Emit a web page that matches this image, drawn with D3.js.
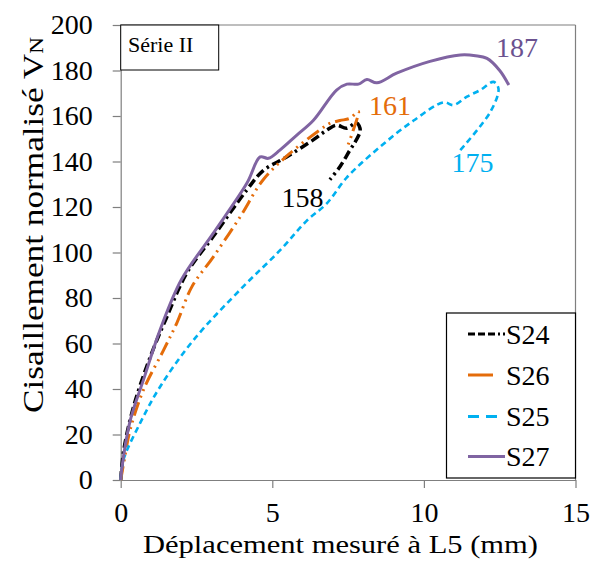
<!DOCTYPE html>
<html><head><meta charset="utf-8">
<script src="https://cdn.jsdelivr.net/npm/d3@7"></script>
<style>body{margin:0;background:#fff}svg{display:block}</style>
</head><body><svg id="c" width="593" height="561"></svg>
<script>
const s24x=[0,0.1,0.42,1.0,1.5,2.18,3.05,4.16,4.7,5.47,6.35,6.8,7.12,7.45,7.78,7.9,7.75,7.56,7.23,6.9];
const s24y=[0,13,32,55,71,91,107,127.5,136,142,149.5,153.8,156,154.6,157,153.8,149,145,137.7,132];
const s26x=[0,0.12,0.31,0.75,1.41,1.85,2.35,3.05,3.94,4.7,5.58,6.58,6.9,7.23,7.56,7.84,7.67,7.5];
const s26y=[0,9,22,39.6,57,69,85,98,115.7,132,143.6,154,156.8,158,159,162,153.8,147.3];
const s25x=[0,0.09,0.64,1.3,2.4,4.04,5.26,6.14,6.8,7.46,8.56,9.66,10.65,10.98,11.42,11.86,12.3,12.46,12.2,11.2];
const s25y=[0,8.8,25,41,61.5,85,101,114,121.6,133,146.5,158,166,164.8,168.5,171.4,175,172,162,145];
const s27x=[0,0.03,0.31,0.75,1.3,2.0,3.05,4.16,4.6,4.87,5.25,5.8,6.35,7.12,7.46,7.84,8.12,8.45,9.1,10.2,11.2,11.7,12.08,12.5,12.8];
const s27y=[0,4.4,26,44,66,88,108.4,130.4,142,141.4,145,151.5,158,171.4,174,174,176,174.6,178.8,184,186.8,186.5,185.3,180,173.6];
const seriesNames=["S24","S26","S25","S27"];
const peakLabels=["158","161","175","187"];
const peakLabelPos=[[6.0,120],[8.88,160.4],[11.6,135.5],[13.07,186]];
const xTicks=[0,5,10,15];
const yTicks=[0,20,40,60,80,100,120,140,160,180,200];

const FF="'Liberation Serif','Tinos','Times New Roman','DejaVu Serif',serif";
const colors=["#000000","#E46C0A","#00B0F0","#8064A2"];
const dashes=["9,4,9,4,2.5,4","14,5,2,5,2,5","6,4",null];
const widths=[3.5,3,2.6,3];
const labelColors=["#000000","#E46C0A","#00B0F0","#6B5290"];

const svg=d3.select("#c");
const L=120.7,R=575.5,T=25,B=480;
const x=d3.scaleLinear().domain([0,15]).range([L,R]);
const y=d3.scaleLinear().domain([0,200]).range([B,T]);

svg.append("line").attr("x1",L).attr("x2",R).attr("y1",T).attr("y2",T).attr("stroke","#7f7f7f").attr("stroke-width",1.2);
svg.append("line").attr("x1",R).attr("x2",R).attr("y1",T).attr("y2",B).attr("stroke","#7f7f7f").attr("stroke-width",1.2);

const xa=svg.append("g").attr("transform",`translate(0,${B})`).call(d3.axisBottom(x).tickValues(xTicks).tickSize(8).tickPadding(14).tickSizeOuter(0));
const ya=svg.append("g").attr("transform",`translate(${L},0)`).call(d3.axisLeft(y).tickValues(yTicks).tickSize(8).tickPadding(20).tickSizeOuter(0));
[xa,ya].forEach(a=>{a.attr("font-family",FF);a.select(".domain").attr("stroke","#7f7f7f").attr("stroke-width",1.2);
 a.selectAll(".tick line").attr("stroke","#7f7f7f").attr("stroke-width",1.2);
 a.selectAll("text").attr("font-size",28).attr("fill","#000").attr("font-family",FF);});

const data=[[s24x,s24y],[s26x,s26y],[s25x,s25y],[s27x,s27y]];
const line=d3.line().x(d=>x(d[0])).y(d=>y(d[1])).curve(d3.curveCatmullRom.alpha(0.5));
data.forEach((s,i)=>{
  const pts=s[0].map((v,j)=>[v,s[1][j]]);
  svg.append("path").attr("d",line(pts)).attr("fill","none").attr("stroke",colors[i])
    .attr("stroke-width",widths[i]).attr("stroke-dasharray",dashes[i]).attr("stroke-linejoin","round");
});
peakLabels.forEach((t,i)=>{
  svg.append("text").attr("x",x(peakLabelPos[i][0])).attr("y",y(peakLabelPos[i][1])).attr("font-size",28)
   .attr("font-family",FF).attr("fill",labelColors[i]).attr("text-anchor","middle").text(t);
});

svg.append("rect").attr("x",L).attr("y",T).attr("width",98).attr("height",45).attr("fill","#fff").attr("stroke","#000").attr("stroke-width",1);
svg.append("text").attr("x",128).attr("y",52).attr("font-size",22).attr("font-family",FF).text("Série II");

const lg=svg.append("g");
lg.append("rect").attr("x",446.5).attr("y",313).attr("width",129).attr("height",165).attr("fill","#fff").attr("stroke","#000").attr("stroke-width",1.2);
const legY=[334,375,416.5,456.5];
const legX2=[505,493,497,505];
const legDash=["7,3,7,3,7,3,2,3",null,"11,7",null];
seriesNames.forEach((n,i)=>{
  lg.append("line").attr("x1",468).attr("x2",legX2[i]).attr("y1",legY[i]).attr("y2",legY[i]).attr("stroke",colors[i])
    .attr("stroke-width",3).attr("stroke-dasharray",legDash[i]);
  lg.append("text").attr("x",506).attr("y",legY[i]+9.5).attr("font-size",28).attr("font-family",FF).text(n);
});

svg.append("text").attr("x",143).attr("y",553).attr("font-size",26).attr("font-family",FF)
  .attr("textLength",395).attr("lengthAdjust","spacingAndGlyphs").text("Déplacement mesuré à L5 (mm)");
const yt=svg.append("text").attr("transform","translate(43,413) rotate(-90)").attr("font-size",29).attr("font-family",FF)
  .attr("textLength",376).attr("lengthAdjust","spacingAndGlyphs");
yt.append("tspan").text("Cisaillement  normalisé V");
yt.append("tspan").attr("font-size",19).text("N");
</script></body></html>
